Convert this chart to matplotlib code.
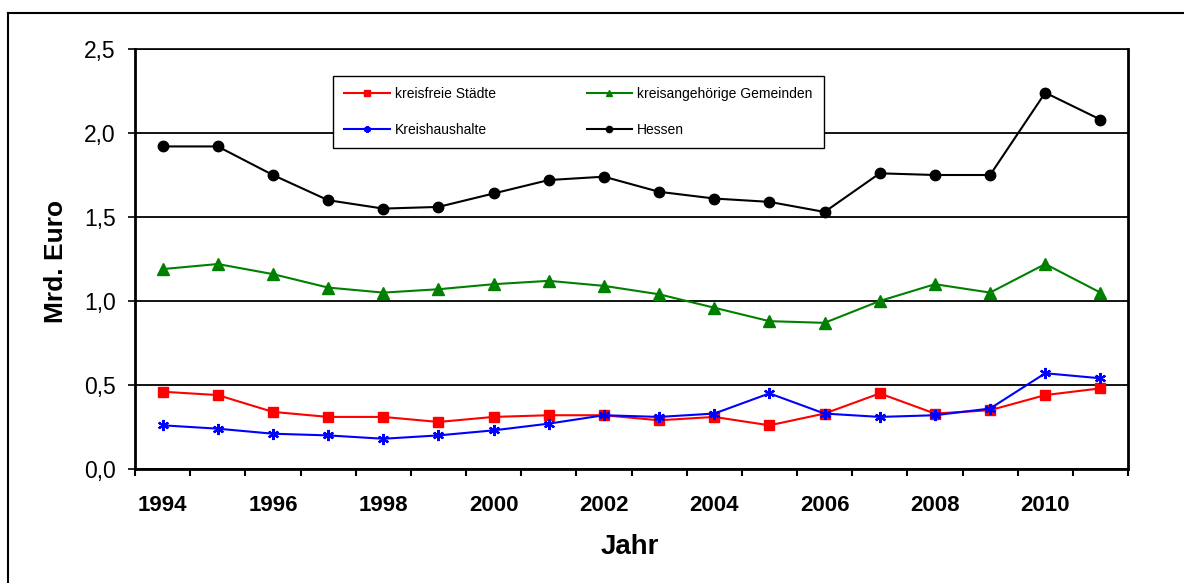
import matplotlib
matplotlib.use("Agg")
import matplotlib.pyplot as plt
from matplotlib.lines import Line2D
from matplotlib.ticker import FixedLocator, FuncFormatter

plt.rcParams['font.family'] = ['Liberation Sans', 'DejaVu Sans']

years = list(range(1994, 2012))
kreisfreie = [0.46, 0.44, 0.34, 0.31, 0.31, 0.28, 0.31, 0.32, 0.32,
              0.29, 0.31, 0.26, 0.33, 0.45, 0.33, 0.35, 0.44, 0.48]
kreisangehoerige = [1.19, 1.22, 1.16, 1.08, 1.05, 1.07, 1.10, 1.12, 1.09,
                    1.04, 0.96, 0.88, 0.87, 1.00, 1.10, 1.05, 1.22, 1.05]
kreishaushalte = [0.26, 0.24, 0.21, 0.20, 0.18, 0.20, 0.23, 0.27, 0.32,
                  0.31, 0.33, 0.45, 0.33, 0.31, 0.32, 0.36, 0.57, 0.54]
hessen = [1.92, 1.92, 1.75, 1.60, 1.55, 1.56, 1.64, 1.72, 1.74,
          1.65, 1.61, 1.59, 1.53, 1.76, 1.75, 1.75, 2.24, 2.08]
series_labels = ["kreisfreie Städte", "kreisangehörige Gemeinden",
                 "Kreishaushalte", "Hessen"]
label_years = [1994, 1996, 1998, 2000, 2002, 2004, 2006, 2008, 2010]
yticks = [0.0, 0.5, 1.0, 1.5, 2.0, 2.5]

W, H = 1184, 583
fig = plt.figure(figsize=(W / 100, H / 100), dpi=100)
L, R, T, B = 135, 1128, 49, 469
ax = fig.add_axes([L / W, 1 - B / H, (R - L) / W, (B - T) / H])

star = (6, 2, 0)
l_red, = ax.plot(years, kreisfreie, color='#FF0000', lw=1.5, marker='s',
                 ms=7, mec='#FF0000', mfc='#FF0000', zorder=4)
l_grn, = ax.plot(years, kreisangehoerige, color='#008000', lw=1.5, marker='^',
                 ms=8, mec='#008000', mfc='#008000', zorder=4)
l_blu, = ax.plot(years, kreishaushalte, color='#0000FF', lw=1.5, marker=star,
                 ms=8, mew=1.6, mec='#0000FF', zorder=5)
l_blk, = ax.plot(years, hessen, color='black', lw=1.5, marker='o',
                 ms=7.5, mec='black', mfc='black', zorder=4)

ax.set_xlim(years[0] - 0.5, years[-1] + 0.5)
ax.set_ylim(0, 2.5)

# x ticks at category boundaries, labels at category centers
ax.xaxis.set_major_locator(FixedLocator([y - 0.5 for y in years] + [years[-1] + 0.5]))
ax.xaxis.set_major_formatter(FuncFormatter(lambda v, p: ""))
ax.xaxis.set_minor_locator(FixedLocator(label_years))
ax.xaxis.set_minor_formatter(FuncFormatter(lambda v, p: f"{int(round(v))}"))
ax.tick_params(axis='x', which='major', length=5, width=1.5, direction='out', color='black')
ax.tick_params(axis='x', which='minor', length=0, pad=19, labelsize=16)
for lab in ax.xaxis.get_minorticklabels():
    lab.set_fontweight('bold')

ax.set_yticks(yticks)
ax.yaxis.set_major_formatter(FuncFormatter(lambda v, p: f"{v:.1f}".replace('.', ',')))
ax.tick_params(axis='y', which='major', length=5, width=1.2, pad=9, labelsize=16.5,
               direction='out')

ax.grid(axis='y', color='black', lw=1.3)
ax.set_axisbelow(True)
for side in ['left', 'bottom']:
    ax.spines[side].set_linewidth(2.0)
ax.spines['right'].set_linewidth(2.0)
ax.spines['top'].set_linewidth(1.2)

leg = ax.legend([l_red, l_blu, l_grn, l_blk],
                [series_labels[0], series_labels[2], series_labels[1], series_labels[3]],
                ncol=2, loc='upper left', mode='expand',
                bbox_to_anchor=(0.1996, 0.762, 0.494, 0.1736),
                fontsize=10, frameon=True, fancybox=False, borderpad=0.8,
                labelspacing=1.55, handlelength=3.3, handletextpad=0.35,
                markerscale=0.6, borderaxespad=0)
leg.get_frame().set_edgecolor('black')
leg.get_frame().set_linewidth(1.0)
leg.get_frame().set_alpha(1)

fig.text(56 / W, 1 - 261 / H, "Mrd. Euro", rotation=90, ha='center', va='center',
         fontsize=19, fontweight='bold')
fig.text(630 / W, 1 - 547 / H, "Jahr", ha='center', va='center',
         fontsize=20, fontweight='bold')

# outer frame (top and left edges)
fig.add_artist(Line2D([8 / W, 8 / W], [0, 1 - 12.5 / H], transform=fig.transFigure,
                      color='black', lw=1.5))
fig.add_artist(Line2D([8 / W, 1], [1 - 12.5 / H, 1 - 12.5 / H], transform=fig.transFigure,
                      color='black', lw=1.5))

fig.savefig("out.png", dpi=100)
